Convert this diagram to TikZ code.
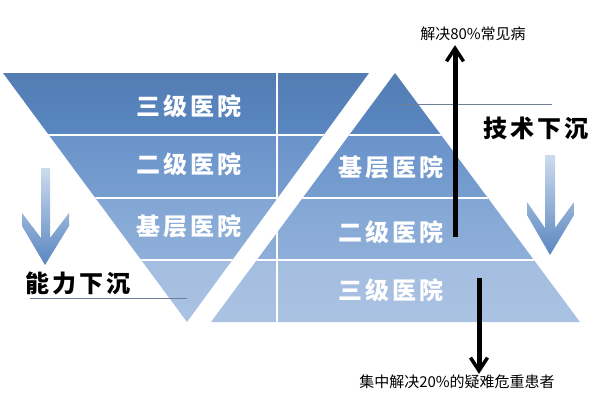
\documentclass[tikz,border=0pt]{standalone}
\usepackage{fontspec}
\setmainfont{Noto Sans CJK SC}
\newfontfamily\tierfont{Noto Sans CJK SC}[LetterSpace=12]
\usetikzlibrary{arrows.meta}
\definecolor{bandA}{HTML}{5A87C2}
\definecolor{bandB}{HTML}{6993CA}
\definecolor{bandC}{HTML}{82A6D4}
\definecolor{bandD}{HTML}{A3BDE0}
\definecolor{arrowtop}{HTML}{CDDBEE}
\definecolor{arrowbot}{HTML}{5A86C0}
\definecolor{rimgray}{HTML}{6E7E94}
\tikzset{
    tier/.style={text=white, font=\tierfont\bfseries\fontsize{24}{24}\selectfont},
    motto/.style={text=black, font=\tierfont\bfseries\fontsize{24}{24}\selectfont},
    note/.style={text=black, font=\fontsize{15}{15}\selectfont, inner sep=0pt},
    msgup/.style={->, > = {Straight Barb[length=13pt,width=17pt,line width=3.5pt]}, line width=5pt, draw=black},
    msgdown/.style={->, > = {Straight Barb[length=13pt,width=17pt,line width=3.5pt]}, line width=5pt, draw=black},
    rim/.style={draw=rimgray, line width=0.9pt},
}
\begin{document}
\begin{tikzpicture}[x=1pt,y=-1pt]
    \useasboundingbox (0,0) rectangle (600,400);
    % the two triangles, cut in bands
    \begin{scope}
        \clip (3,73) -- (369,73) -- (187,322) -- cycle
              (395,73) -- (580,322) -- (211,322) -- cycle;
        \shade[top color=bandA!92!black, bottom color=bandA] (0,73) rectangle (600,135);
        \shade[top color=bandB, bottom color=bandB!90!white] (0,135) rectangle (600,198);
        \shade[top color=bandC, bottom color=bandC!90!white] (0,198) rectangle (600,260);
        \shade[top color=bandD, bottom color=bandD!92!white] (0,260) rectangle (600,323);
        \draw[white, line width=2pt] (0,135) -- (600,135) (0,198) -- (600,198) (0,260) -- (600,260);
        \draw[white, line width=1.2pt] (277,60) -- (277,330);
    \end{scope}
    \draw[rim] (397,104) -- (552,104);
    \draw[rim] (30,298) -- (187,298);
    % big arrows
    \shade[top color=arrowtop, bottom color=arrowbot] (41,168) -- (50,168) -- (50,238) -- (69,213) -- (69,226)
        -- (45,265) -- (22,226) -- (22,213) -- (41,238) -- cycle;
    \shade[top color=arrowtop, bottom color=arrowbot] (545,155) -- (555,155) -- (555,228) -- (574,202) -- (574,215)
        -- (550,255) -- (527,215) -- (527,202) -- (545,228) -- cycle;
    \node[tier] (l3) at (189,106) {三级医院};
    \node[tier] (l2) at (189,164) {二级医院};
    \node[tier] (l1) at (189,226) {基层医院};
    \node[tier] (r1) at (391,167) {基层医院};
    \node[tier] (r2) at (391,232) {二级医院};
    \node[tier] (r3) at (391,290) {三级医院};
    \node[motto] (tech) at (536,128) {技术下沉};
    \node[motto] (skill) at (78,283) {能力下沉};
    \node[note] (top80) at (473,34) {解决80\%常见病};
    \node[note] (low20) at (457,382) {集中解决20\%的疑难危重患者};
    \coordinate (upfoot) at (455,237);
    \coordinate (downtop) at (479,278);
    \draw[msgup, shorten >=4pt] (upfoot) -- (upfoot |- top80.south);
    \draw[msgdown, shorten >=1pt] (downtop) -- (downtop |- low20.north);
\end{tikzpicture}
\end{document}
